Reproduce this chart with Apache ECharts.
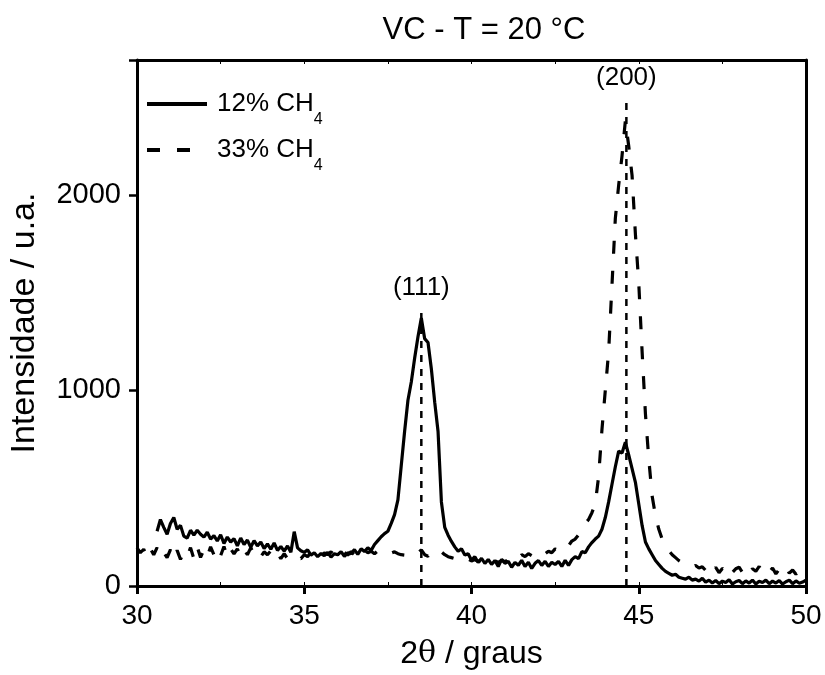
<!DOCTYPE html>
<html>
<head>
<meta charset="utf-8">
<script src="https://cdn.jsdelivr.net/npm/echarts@6/dist/echarts.min.js"></script>
<style>html,body{margin:0;padding:0;background:#fff}#c{width:825px;height:675px}</style>
</head>
<body>
<div id="c"></div>
<script>
// 2θ grid (degrees), 0.1 step
var twoTheta = [
30.0,30.1,30.2,30.3,30.4,30.5,30.6,30.7,30.8,30.9,
31.0,31.1,31.2,31.3,31.4,31.5,31.6,31.7,31.8,31.9,
32.0,32.1,32.2,32.3,32.4,32.5,32.6,32.7,32.8,32.9,
33.0,33.1,33.2,33.3,33.4,33.5,33.6,33.7,33.8,33.9,
34.0,34.1,34.2,34.3,34.4,34.5,34.6,34.7,34.8,34.9,
35.0,35.1,35.2,35.3,35.4,35.5,35.6,35.7,35.8,35.9,
36.0,36.1,36.2,36.3,36.4,36.5,36.6,36.7,36.8,36.9,
37.0,37.1,37.2,37.3,37.4,37.5,37.6,37.7,37.8,37.9,
38.0,38.1,38.2,38.3,38.4,38.5,38.6,38.7,38.8,38.9,
39.0,39.1,39.2,39.3,39.4,39.5,39.6,39.7,39.8,39.9,
40.0,40.1,40.2,40.3,40.4,40.5,40.6,40.7,40.8,40.9,
41.0,41.1,41.2,41.3,41.4,41.5,41.6,41.7,41.8,41.9,
42.0,42.1,42.2,42.3,42.4,42.5,42.6,42.7,42.8,42.9,
43.0,43.1,43.2,43.3,43.4,43.5,43.6,43.7,43.8,43.9,
44.0,44.1,44.2,44.3,44.4,44.5,44.6,44.7,44.8,44.9,
45.0,45.1,45.2,45.3,45.4,45.5,45.6,45.7,45.8,45.9,
46.0,46.1,46.2,46.3,46.4,46.5,46.6,46.7,46.8,46.9,
47.0,47.1,47.2,47.3,47.4,47.5,47.6,47.7,47.8,47.9,
48.0,48.1,48.2,48.3,48.4,48.5,48.6,48.7,48.8,48.9,
49.0,49.1,49.2,49.3,49.4,49.5,49.6,49.7,49.8,49.9,
50.0
];
// 12% CH4 intensity (u.a.)
var intensity12 = [
null,null,null,null,null,null,280,340,300,265,
320,350,290,310,255,245,285,260,285,265,
250,275,240,258,230,262,218,250,225,242,
205,245,212,235,198,232,205,225,192,215,
188,220,182,202,178,205,172,278,195,180,
172,185,158,170,150,166,155,172,148,165,
160,176,152,170,165,186,162,190,176,196,
182,212,232,252,268,280,320,365,440,616,
790,950,1043,1165,1275,1370,1265,1245,1110,940,
790,430,300,260,228,200,178,190,158,165,
132,150,120,142,115,136,110,130,100,136,
116,126,96,121,106,131,100,121,90,116,
130,105,126,100,121,110,126,100,131,105,
135,150,140,176,170,200,222,240,255,290,
350,430,520,610,690,680,735,670,600,530,
420,310,225,190,160,130,110,90,75,65,
55,60,45,40,35,45,30,35,25,40,
20,30,15,28,12,25,18,32,10,22,
28,12,26,15,30,10,24,18,30,12,
25,15,28,10,22,30,12,26,14,20,
30
];
// 33% CH4 intensity (u.a.)
var intensity33 = [
195,170,188,150,192,160,196,150,172,145,
186,140,182,136,172,150,196,140,200,146,
186,150,200,160,195,155,202,150,190,165,
190,150,186,160,195,165,180,150,175,160,
180,150,170,140,165,140,150,135,145,140,
160,150,172,155,165,150,170,160,175,158,
168,150,172,158,176,160,180,165,182,170,
178,165,180,170,178,172,168,175,165,160,
158,152,150,155,168,185,160,152,172,178,
165,175,160,150,145,140,135,140,130,138,
128,135,125,132,120,130,118,128,122,130,
125,135,130,145,140,160,150,165,155,170,
160,172,165,178,170,190,180,200,210,205,
230,240,262,290,320,340,375,420,560,800,
1000,1200,1540,1880,2050,2200,2380,2250,2100,1800,
1550,1200,880,650,460,360,290,240,205,180,
160,145,130,120,112,100,96,105,92,98,
80,100,72,95,68,90,78,102,70,88,
96,70,92,65,88,75,100,68,85,72,
92,62,85,70,95,66,82,60,78,72,
65
];
var seriesNames = ['12% CH4', '33% CH4'];
var peakPositions = [38.5, 44.63];
var peakLineTops = [1415, 2490];
var peakLabels = ['(111)', '(200)'];
var xTicks = [30, 35, 40, 45, 50];
var yTicks = [0, 1000, 2000];

var FONT = '"Liberation Sans", Arial, sans-serif';

function pairs(xs, ys) {
  var out = [];
  for (var i = 0; i < xs.length; i++) out.push([xs[i], ys[i]]);
  return out;
}

var series = [
  {
    name: seriesNames[1], type: 'line', xAxisIndex: 0, yAxisIndex: 0,
    data: pairs(twoTheta, intensity33), showSymbol: false, symbol: 'none',
    lineStyle: { color: '#000', width: 3.2, type: [13, 17] }, itemStyle: { color: '#000' }, z: 3
  },
  {
    name: seriesNames[0], type: 'line', xAxisIndex: 0, yAxisIndex: 0,
    data: pairs(twoTheta, intensity12), showSymbol: false, symbol: 'none', connectNulls: false,
    lineStyle: { color: '#000', width: 3.2, type: 'solid' }, itemStyle: { color: '#000' }, z: 4
  }
];
for (var k = 0; k < peakPositions.length; k++) {
  series.push({
    name: 'peak' + k, type: 'line', xAxisIndex: 0, yAxisIndex: 0,
    data: [[peakPositions[k], 0], [peakPositions[k], peakLineTops[k]]],
    showSymbol: false, symbol: 'none',
    lineStyle: { color: '#000', width: 2.5, type: [7, 7] },
    markPoint: {
      symbol: 'rect', symbolSize: 1, itemStyle: { color: 'rgba(0,0,0,0)' },
      data: [{ coord: [peakPositions[k], peakLineTops[k]], value: peakLabels[k] }],
      label: { show: true, position: 'top', distance: 8, formatter: peakLabels[k], color: '#000', fontSize: 26, fontFamily: FONT }
    },
    z: 2, silent: true
  });
}

var chart = echarts.init(document.getElementById('c'), null, { renderer: 'canvas' });
chart.setOption({
  animation: false,
  backgroundColor: '#fff',
  title: {
    text: 'VC - T = 20 °C', left: 479, top: 10, textAlign: 'center',
    textStyle: { fontFamily: FONT, fontSize: 31, fontWeight: 'normal', color: '#000' }
  },
  legend: {
    data: seriesNames, orient: 'vertical', left: 140, top: 74,
    itemWidth: 60, itemHeight: 14, itemGap: -4,
    itemStyle: { opacity: 0 },
    lineStyle: { width: 4 },
    formatter: function (n) { return '{n|' + n.slice(0, -1) + '}{s|' + n.slice(-1) + '}'; },
    textStyle: {
      color: '#000', fontFamily: FONT, fontSize: 26,
      rich: {
        n: { fontFamily: FONT, fontSize: 26, lineHeight: 26, color: '#000', padding: [12, 0, 12, 5] },
        s: { fontFamily: FONT, fontSize: 16, lineHeight: 16, color: '#000', padding: [32, 0, 0, 0] }
      }
    }
  },
  grid: { left: 135, right: 19, top: 60, bottom: 87, containLabel: false },
  xAxis: [
    {
      type: 'value', position: 'bottom', min: xTicks[0], max: xTicks[xTicks.length - 1], interval: 5,
      axisLine: { show: true, onZero: false, lineStyle: { color: '#000', width: 3 } },
      axisTick: { show: true, inside: false, length: 8, lineStyle: { color: '#000', width: 3 } },
      axisLabel: { color: '#000', fontSize: 28, fontFamily: FONT, margin: 16 },
      splitLine: { show: false },
      name: '{a|2}{t|θ}{a| / graus}', nameLocation: 'middle', nameGap: 52,
      nameTextStyle: { color: '#000', fontSize: 32, fontFamily: FONT,
        rich: { a: { fontSize: 32, fontFamily: FONT, color: '#000' },
                t: { fontSize: 30, fontFamily: '"DejaVu Serif", "Liberation Serif", serif', color: '#000' } } }
    },
    {
      type: 'value', position: 'top', min: 30, max: 50, interval: 2.5,
      axisLine: { show: true, onZero: false, lineStyle: { color: '#000', width: 3 } },
      axisTick: { show: true, inside: true, length: 4, lineStyle: { color: '#000', width: 1 } },
      axisLabel: { show: false }, splitLine: { show: false }
    },
    {
      type: 'value', position: 'bottom', min: 30, max: 50, interval: 2.5,
      axisLine: { show: false },
      axisTick: { show: true, inside: true, length: 4, lineStyle: { color: '#000', width: 1 } },
      axisLabel: { show: false }, splitLine: { show: false }
    }
  ],
  yAxis: [
    {
      type: 'value', position: 'left', min: 0, max: 2690, interval: 1000,
      axisLine: { show: true, onZero: false, lineStyle: { color: '#000', width: 3 } },
      axisTick: { show: true, inside: false, length: 8, lineStyle: { color: '#000', width: 2.5 } },
      axisLabel: { color: '#000', fontSize: 29, fontFamily: FONT, margin: 16,
        formatter: function (v) { return yTicks.indexOf(v) >= 0 ? String(v) : ''; } },
      splitLine: { show: false },
      name: 'Intensidade / u.a.', nameLocation: 'middle', nameGap: 95, nameRotate: 90,
      nameTextStyle: { color: '#000', fontSize: 34, fontFamily: FONT }
    },
    {
      type: 'value', position: 'right', min: 0, max: 2690, interval: 1000,
      axisLine: { show: true, onZero: false, lineStyle: { color: '#000', width: 3 } },
      axisTick: { show: false }, axisLabel: { show: false }, splitLine: { show: false }
    }
  ],
  series: series
});
</script>
</body>
</html>
